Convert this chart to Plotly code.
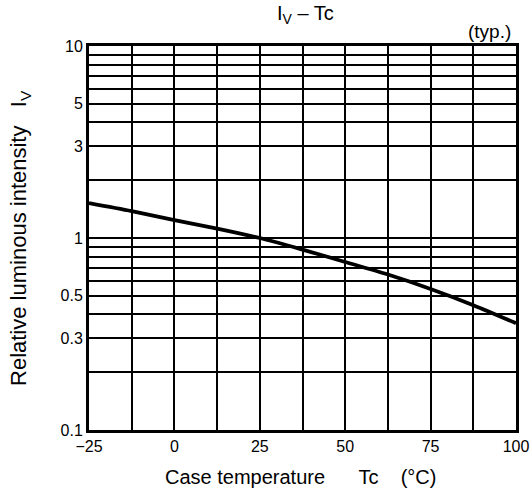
import plotly.graph_objects as go

# Data
temps = [-25, -12.5, 0, 12.5, 25, 37.5, 50, 62.5, 75, 87.5, 100]
rel_intensity = [1.52, 1.38, 1.24, 1.12, 1.0, 0.87, 0.75, 0.645, 0.543, 0.447, 0.36]

x_ticks = [-25, 0, 25, 50, 75, 100]
x_labels = ["\u221225", "0", "25", "50", "75", "100"]
x_minor = [-12.5, 12.5, 37.5, 62.5, 87.5]

y_grid = [0.1, 0.2, 0.3, 0.4, 0.5, 0.6, 0.7, 0.8, 0.9, 1,
          2, 3, 4, 5, 6, 7, 8, 9, 10]
y_labels = ["0.1", "", "0.3", "", "0.5", "", "", "", "", "1",
            "", "3", "", "5", "", "", "", "", "10"]

FONT = "Liberation Sans, Arial, sans-serif"
NB = "\u00a0"

fig = go.Figure()
fig.add_trace(go.Scatter(
    x=temps, y=rel_intensity, mode="lines",
    line=dict(color="black", width=3.8, shape="spline", smoothing=0.8),
    hoverinfo="skip", showlegend=False,
))

fig.update_layout(
    width=530, height=495,
    margin=dict(l=89, r=14, t=46, b=65, autoexpand=False),
    paper_bgcolor="white", plot_bgcolor="white",
    font=dict(family=FONT, color="black", size=16),
)

fig.update_xaxes(
    range=[-25, 100], tickmode="array", tickvals=x_ticks, ticktext=x_labels,
    showgrid=True, gridcolor="black", gridwidth=2.1,
    minor=dict(tickmode="array", tickvals=x_minor, showgrid=True,
               gridcolor="black", gridwidth=1.5, ticks=""),
    showline=True, linecolor="black", linewidth=3, mirror=True,
    ticks="", zeroline=False, tickfont=dict(size=16), automargin=False,
)
fig.update_yaxes(
    type="log", range=[-1, 1], tickmode="array", tickvals=y_grid, ticktext=y_labels,
    showgrid=True, gridcolor="black", gridwidth=1.6,
    showline=True, linecolor="black", linewidth=3, mirror=True,
    ticks="", zeroline=False, tickfont=dict(size=16), automargin=False,
)

# Titles as annotations (paper coordinates)
fig.add_annotation(
    text="I<sub>V</sub> \u2013 Tc", xref="paper", yref="paper",
    x=0.506, y=1.081, xanchor="center", yanchor="middle",
    showarrow=False, font=dict(size=20),
)
fig.add_annotation(
    text="(typ.)", xref="paper", yref="paper", x=0.993, y=1.037,
    xanchor="right", yanchor="middle", showarrow=False,
    font=dict(size=19),
)
fig.add_annotation(
    text="Case temperature" + NB * 6 + "Tc" + NB * 4 + "(\u00b0C)",
    xref="paper", yref="paper", x=0.496, y=-0.122,
    xanchor="center", yanchor="middle", showarrow=False,
    font=dict(size=20),
)
fig.add_annotation(
    text="Relative luminous intensity" + NB * 3 + "I<sub>V</sub>",
    xref="paper", yref="paper", x=-0.1616, y=0.50,
    xanchor="center", yanchor="middle", textangle=-90, showarrow=False,
    font=dict(size=22),
)

fig.write_html(
    "out.html",
    config={"displayModeBar": False},
    post_script="document.body.style.margin='0';document.body.style.overflow='hidden';",
)
